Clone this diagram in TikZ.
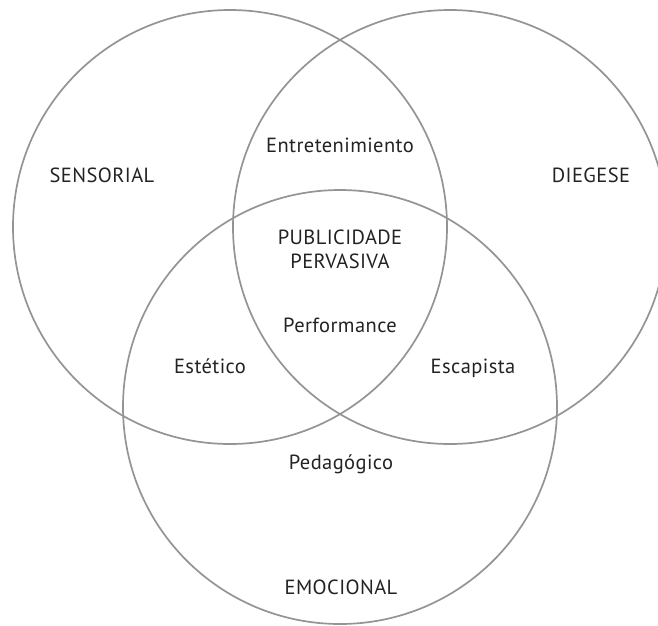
\documentclass[tikz,border=0pt]{standalone}
\usepackage{fontspec}
\setmainfont{PT Sans}[LetterSpace=2]
\definecolor{ringgray}{RGB}{148,148,152}
\definecolor{txt}{RGB}{35,35,35}
\begin{document}
\begin{tikzpicture}[x=1pt,y=-1pt,
  ring/.style={draw=ringgray,line width=1.7pt,circle,minimum size=434pt,inner sep=0pt},
  lbl/.style={text=txt,font=\fontsize{20.5}{24}\selectfont,anchor=base,inner sep=0pt}]
\clip (0,0) rectangle (658,625);
\node[ring] (sens) at (230,227) {};
\node[ring] (dieg) at (450,227) {};
\node[ring] (emoc) at (340,407) {};
\node[lbl] (lsens) at (102,182) {SENSORIAL};
\node[lbl] (ldieg) at (591,182) {DIEGESE};
\node[lbl] (lentr) at (340,152) {Entretenimiento};
\node[lbl] (lpub) at (340,244) {PUBLICIDADE};
\node[lbl] (lperv) at (340,268) {PERVASIVA};
\node[lbl] (lperf) at (340,332) {Performance};
\node[lbl] (lest) at (210,373) {Estético};
\node[lbl] (lesc) at (473,373) {Escapista};
\node[lbl] (lped) at (341,469) {Pedagógico};
\node[lbl] (lemo) at (341,594) {EMOCIONAL};
\end{tikzpicture}
\end{document}
